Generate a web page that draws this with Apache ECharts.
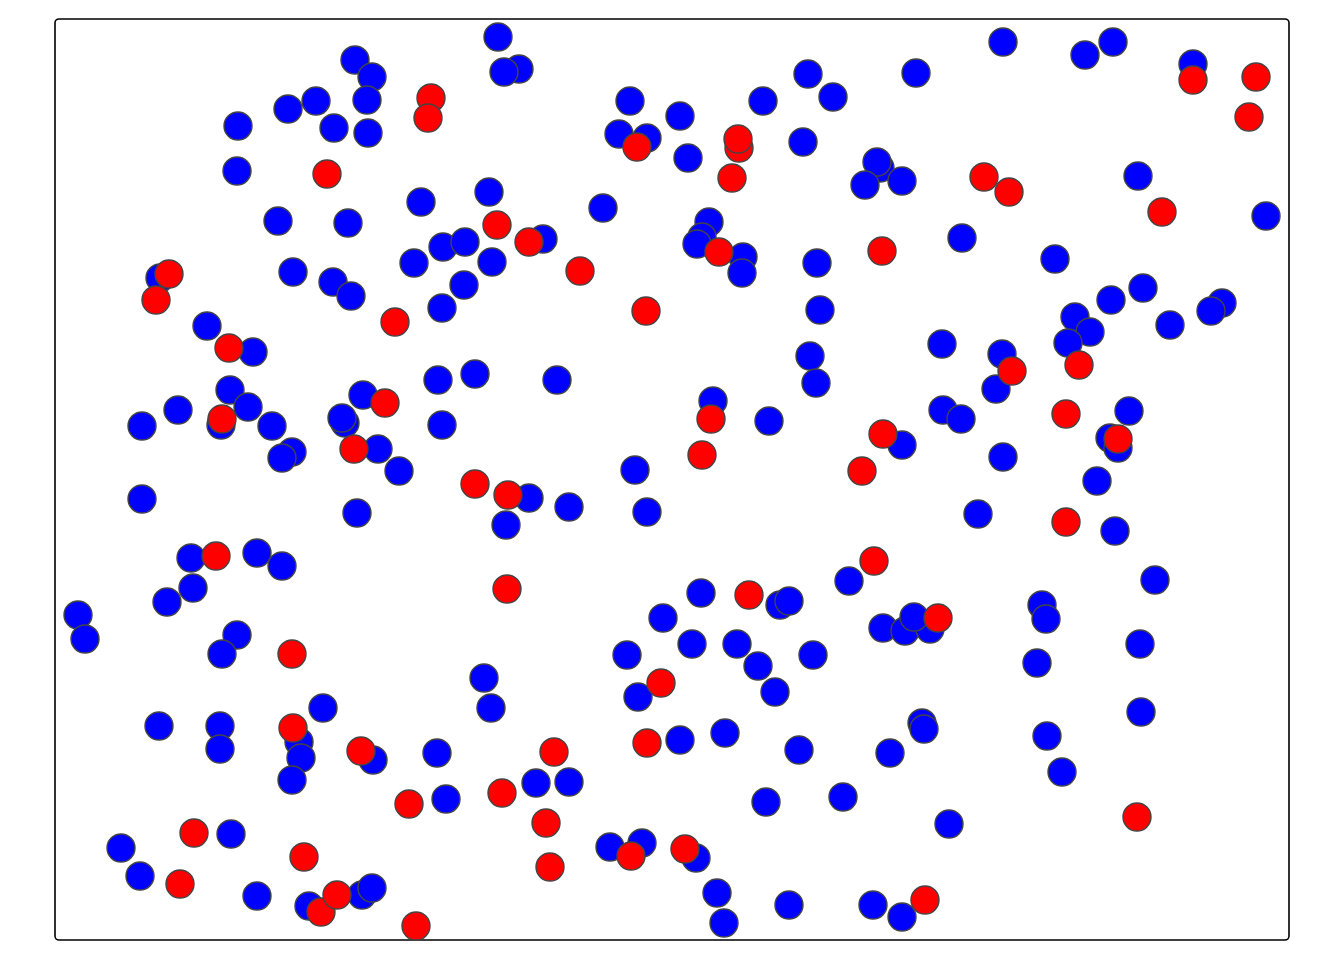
<!DOCTYPE html>
<html>
<head>
<meta charset="utf-8">
<script src="https://cdn.jsdelivr.net/npm/echarts@6/dist/echarts.min.js"></script>
<style>html,body{margin:0;padding:0;background:#fff}#c{width:1344px;height:960px}</style>
</head>
<body>
<div id="c"></div>
<script>
// x and y values of each point (x: 0..1234, y: 0..921 units across the panel)
const blueX = [300,317,312,313,233,261,279,183,182,223,293,238,278,296,105,152,443,464,449,575,564,592,625,633,366,434,548,488,388,410,359,437,409,387,753,778,861,708,748,825,822,810,847,654,647,642,688,687,907,762,765,948,1030,1058,1138,1083,1211,1000,1088,1056,1167,1156,1020,1035,1013,1115,198,175,193,166,217,123,87,237,227,290,287,308,87,302,136,202,227,138,112,23,30,182,383,420,502,387,323,344,474,451,514,580,592,608,755,761,887,947,658,714,847,888,906,948,941,923,794,646,725,734,828,850,875,859,1074,1055,1063,1042,1060,1100,987,991,167,268,104,165,165,244,246,237,318,176,66,85,202,254,307,317,572,583,429,436,382,391,481,514,625,555,587,637,682,703,720,758,670,744,867,869,835,711,788,894,641,662,669,734,818,847,1085,982,1086,992,1007];
const blueY = [880,863,840,807,831,839,812,814,769,719,717,668,658,644,662,614,903,871,868,839,806,802,824,782,738,748,732,701,693,698,677,678,655,632,866,843,867,839,798,772,778,755,759,718,703,696,683,667,702,677,630,898,885,898,876,764,724,681,652,640,637,629,623,608,597,615,588,550,533,515,514,530,514,488,482,517,522,545,441,427,382,387,374,352,338,325,301,305,560,566,560,515,491,469,442,415,433,470,428,322,584,557,596,586,539,519,495,530,521,483,551,426,359,347,335,339,312,309,311,323,529,502,492,459,409,360,335,321,286,232,214,214,191,198,182,160,180,106,92,64,44,34,45,52,285,243,262,232,187,141,157,158,200,93,97,296,296,274,248,285,207,190,217,211,187,138,143,116,82,47,17,35,35,23,296,277,228,204,168];
const redX = [272,114,101,376,373,582,442,474,340,525,591,684,683,677,664,827,929,954,1138,1201,1194,1107,174,167,299,161,330,420,453,452,656,647,828,807,819,694,883,1024,957,1011,1063,1011,237,238,306,139,125,266,282,354,447,499,491,495,606,592,576,630,361,870,1082,249];
const redY = [766,666,640,842,822,793,715,698,618,669,629,792,801,762,688,689,763,748,860,863,823,728,592,521,491,384,537,456,445,351,521,485,506,469,379,345,322,575,569,526,501,418,286,212,189,107,56,28,45,136,147,188,117,73,257,197,84,91,14,40,123,83];

const pairs = (xs, ys) => xs.map((x, i) => [x, ys[i]]);
const chart = echarts.init(document.getElementById('c'), null, {renderer: 'canvas'});
const pointStyle = (c) => ({color: c, borderColor: '#444444', borderWidth: 1.4, opacity: 1});
chart.setOption({
  animation: false,
  backgroundColor: '#ffffff',
  grid: {left: 55, top: 19, width: 1234, height: 921, show: false},
  graphic: [{
    type: 'rect', silent: true, z: 0,
    shape: {x: 55, y: 19, width: 1234, height: 921, r: 4},
    style: {fill: 'none', stroke: '#000000', lineWidth: 1.6}
  }],
  xAxis: {type: 'value', min: 0, max: 1234, show: false},
  yAxis: {type: 'value', min: 0, max: 921, show: false},
  series: [
    {type: 'scatter', data: pairs(blueX, blueY), symbol: 'circle', symbolSize: 28, clip: false, itemStyle: pointStyle('#0000ff'), emphasis: {disabled: true}},
    {type: 'scatter', data: pairs(redX, redY), symbol: 'circle', symbolSize: 28, clip: false, itemStyle: pointStyle('#ff0000'), emphasis: {disabled: true}}
  ]
});
</script>
</body>
</html>
